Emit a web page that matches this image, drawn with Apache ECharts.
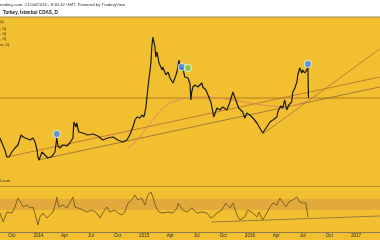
<!DOCTYPE html>
<html><head><meta charset="utf-8">
<script src="https://cdn.jsdelivr.net/npm/echarts@6/dist/echarts.min.js"></script>
<style>html,body{margin:0;padding:0;background:#F1BF2F}#c{width:380px;height:240px}</style>
</head><body><div id="c"></div><script>
const priceDates = ['2013-08-21','2013-09-01','2013-09-07','2013-09-14','2013-09-21','2013-10-01','2013-10-12','2013-10-22','2013-11-02','2013-11-09','2013-11-16','2013-11-26','2013-12-03','2013-12-13','2013-12-20','2013-12-27','2013-12-30','2014-01-03','2014-01-13','2014-01-23','2014-02-02','2014-02-13','2014-02-20','2014-02-27','2014-03-05','2014-03-09','2014-03-16','2014-03-26','2014-04-09','2014-04-19','2014-04-30','2014-05-03','2014-05-10','2014-05-13','2014-05-20','2014-06-03','2014-06-20','2014-07-08','2014-07-25','2014-08-11','2014-08-28','2014-09-15','2014-10-02','2014-10-19','2014-11-02','2014-11-12',
'2014-11-23','2014-11-30','2014-12-07','2014-12-17','2014-12-24','2014-12-31','2015-01-07','2015-01-14','2015-01-24','2015-01-27','2015-01-31','2015-02-07','2015-02-10','2015-02-14','2015-02-21','2015-03-04','2015-03-06','2015-03-17','2015-03-24','2015-03-31','2015-04-10','2015-04-17','2015-04-24','2015-05-01','2015-05-07','2015-05-14','2015-05-21','2015-06-01','2015-06-08','2015-06-11','2015-06-14','2015-06-18','2015-06-25','2015-07-05','2015-07-19','2015-07-22','2015-08-02','2015-08-09','2015-08-19','2015-08-26','2015-08-29','2015-09-09','2015-09-19','2015-09-29','2015-10-13','2015-10-24','2015-11-03','2015-11-13','2015-11-23','2015-12-07','2015-12-14','2015-12-21',
'2016-01-01','2016-01-11','2016-01-25','2016-02-04','2016-02-14','2016-02-28','2016-03-10','2016-03-20','2016-04-03','2016-04-06','2016-04-16','2016-04-23','2016-04-30','2016-05-07','2016-05-14','2016-05-24','2016-05-28','2016-06-04','2016-06-11','2016-06-14','2016-06-21','2016-06-28','2016-07-01','2016-07-08','2016-07-15','2016-07-19','2016-07-21'];
const priceValues = [0.96,0.80,0.72,0.58,0.58,0.68,0.76,0.82,1.02,0.98,0.96,0.94,0.92,0.96,0.88,0.72,0.58,0.52,0.68,0.62,0.56,0.58,0.62,0.68,0.96,0.80,0.76,0.82,0.80,0.86,0.96,1.28,1.18,1.26,1.08,1.06,1.02,1.04,1.00,0.92,0.96,0.98,0.92,0.88,0.92,1.02,
1.18,1.32,1.38,1.36,1.42,1.38,1.58,1.98,2.46,2.78,2.98,2.78,2.58,2.68,2.46,2.32,2.38,2.22,2.28,2.16,2.06,2.16,2.28,2.52,2.32,2.36,2.18,2.16,2.04,1.72,1.88,1.98,2.02,1.98,2.06,1.98,1.92,1.82,1.68,1.48,1.38,1.56,1.52,1.58,1.52,1.68,1.88,1.72,1.56,1.48,1.36,1.46,
1.42,1.36,1.26,1.16,1.06,1.18,1.28,1.32,1.38,1.48,1.60,1.56,1.72,1.52,1.62,1.68,1.88,1.96,2.08,2.22,2.36,2.26,2.32,2.26,2.32,2.38,1.76];

const maDates = ['2014-11-06','2014-11-30','2014-12-24','2015-01-14','2015-02-07','2015-03-06','2015-04-06','2015-05-11','2015-06-25','2015-08-16','2015-10-06','2015-11-27','2016-01-18','2016-03-10','2016-04-20','2016-06-04','2016-07-21'];
const maValues = [0.76,0.88,1.04,1.20,1.38,1.56,1.68,1.74,1.78,1.78,1.74,1.70,1.64,1.60,1.58,1.62,1.70];

const oscDates = ['2013-08-21','2013-09-01','2013-09-14','2013-10-01','2013-10-12','2013-10-22','2013-11-02','2013-11-09','2013-11-22','2013-12-03','2013-12-13','2013-12-23','2013-12-30','2014-01-06','2014-01-16','2014-01-30','2014-02-09','2014-02-20','2014-03-02','2014-03-05','2014-03-12','2014-03-26','2014-04-09','2014-04-19','2014-04-30','2014-05-07','2014-05-17','2014-06-03','2014-06-17','2014-07-04','2014-07-21','2014-08-01','2014-08-11','2014-08-25','2014-09-04','2014-09-22','2014-10-02','2014-10-16','2014-10-26','2014-11-06','2014-11-19','2014-11-30','2014-12-10','2014-12-24','2015-01-03','2015-01-14','2015-01-24','2015-01-31','2015-02-10','2015-02-21','2015-03-06','2015-03-24','2015-04-10','2015-04-24','2015-04-28','2015-05-14','2015-05-29','2015-06-14','2015-07-02','2015-07-19','2015-08-05','2015-08-19','2015-08-26','2015-09-09','2015-09-26','2015-10-10','2015-10-24','2015-11-03','2015-11-17','2015-11-27','2015-12-14','2015-12-25','2016-01-11','2016-01-25','2016-02-01','2016-02-14','2016-02-28','2016-03-10','2016-03-20','2016-04-03','2016-04-13','2016-04-23','2016-05-04','2016-05-14','2016-05-28','2016-06-11','2016-06-21','2016-07-01','2016-07-12','2016-07-15','2016-07-19','2016-07-21'];
const oscValues = [38,20,40,38,50,68,58,50,54,48,50,30,14,30,38,28,34,40,60,70,50,54,48,58,70,50,48,44,40,44,38,28,38,50,40,44,38,34,40,58,64,74,64,68,54,74,80,70,50,40,38,40,38,48,58,44,40,48,38,40,38,28,30,38,44,58,48,58,34,24,30,44,38,30,40,24,38,50,58,54,68,60,50,60,64,70,60,58,58,54,30,30];

const trend1 = [['2013-09-14',0.58],['2017-03-24',2.18]];
const trend2 = [['2013-12-30',0.52],['2017-03-24',1.98]];
const trend3 = [['2016-02-14',1.04],['2017-03-24',2.74]];
const oscTrend = [['2015-08-22',20],['2017-03-24',32]];
const levelPrice = 1.76;
const oscBand = [44,66];

const blueEvents = [['2014-03-05',1.04],['2015-05-11',2.38],['2016-07-19',2.44]];
const greenEvents = [['2015-06-01',2.36]];

const tickDates = ['2013-10-01','2014-01-01','2014-04-01','2014-07-01','2014-10-01','2015-01-01','2015-04-01','2015-07-01','2015-10-01','2016-01-01','2016-04-01','2016-07-01','2016-10-01','2017-01-01'];
const tickLabels = ['Oct','2014','Apr','Jul','Oct','2015','Apr','Jul','Oct','2016','Apr','Jul','Oct','2017'];

const headerLine1 = 'eeding.com, 21/Jul/2016 - 8:35:42 GMT, Powered by TradingView';
const headerLine2 = 'Turkey, Istanbul CDAS, D';
const legendTexts = ['0)', ', 0)', ', 0)', ', 0)', 'w, 0)'];

const base = Date.UTC(2014,0,1);
function dx(s){const p=s.split('-').map(Number);return (Date.UTC(p[0],p[1]-1,p[2])-base)/86400000;}
const pts = (ds, vs) => ds.map((d,i)=>[dx(d),vs[i]]);
const seg = a => a.map(p=>[dx(p[0]),p[1]]);
const tickValues = tickDates.map(dx);
const XMIN = -132.9, XMAX = 1178.9;
const FONT = 'Liberation Sans';

const chart = echarts.init(document.getElementById('c'), null, {renderer:'canvas'});
const lineS = (data, color, w, xi, yi, z) => ({type:'line', data, xAxisIndex:xi, yAxisIndex:yi, symbol:'none', silent:true, animation:false, z:z||2,
  lineStyle:{color, width:w}});

chart.setOption({
  animation:false,
  backgroundColor:'#F1BF2F',
  grid:[{left:0,right:0,top:17,height:170},{left:0,right:0,top:187,height:45}],
  xAxis:[
    {type:'value',gridIndex:0,min:XMIN,max:XMAX,axisLine:{show:true,lineStyle:{color:'#B8902E',width:1}},axisTick:{show:false},axisLabel:{show:false},splitLine:{show:false}},
    {type:'value',gridIndex:1,min:XMIN,max:XMAX,axisLine:{show:true,lineStyle:{color:'#8C7A50',width:1}},axisTick:{show:false},splitLine:{show:false},
     axisLabel:{show:true,customValues:tickValues,margin:1.5,fontSize:4.6,fontFamily:FONT,color:'#2a2a2a',
       formatter:v=>{const i=tickValues.indexOf(v);return i>=0?tickLabels[i]:'';}}}
  ],
  yAxis:[
    {type:'value',gridIndex:0,min:-0.02,max:3.38,show:false,splitLine:{show:false}},
    {type:'value',gridIndex:1,min:0,max:90,show:false,splitLine:{show:false}}
  ],
  series:[
    lineS([[XMIN,levelPrice],[XMAX,levelPrice]],'#B07A1E',1,0,0,1),
    lineS(seg(trend1),'#B8683A',0.8,0,0,2),
    lineS(seg(trend2),'#8E6A3A',0.8,0,0,2),
    lineS(seg(trend3),'#A8703A',0.8,0,0,2),
    lineS(pts(maDates,maValues),'#E48A5C',1,0,0,2),
    lineS(pts(priceDates,priceValues),'#1A1A10',1.2,0,0,3),
    {type:'scatter',xAxisIndex:0,yAxisIndex:0,data:seg(blueEvents),symbol:'circle',symbolSize:7,silent:true,z:5,
      itemStyle:{color:'#3E8EE6',borderColor:'#D8ECFF',borderWidth:1.2}},
    {type:'scatter',xAxisIndex:0,yAxisIndex:0,data:seg(greenEvents),symbol:'circle',symbolSize:7,silent:true,z:5,
      itemStyle:{color:'#79C85A',borderColor:'#E0F5D0',borderWidth:1.2}},
    Object.assign(lineS(pts(oscDates,oscValues),'#6E5A24',0.9,1,1,3),{
      markArea:{silent:true,itemStyle:{color:'#E2AA3C'},data:[[{yAxis:oscBand[0]},{yAxis:oscBand[1]}]]}}),
    lineS(seg(oscTrend),'#7E6A4A',0.8,1,1,2)
  ],
  graphic:[
    {type:'rect',left:0,top:0,shape:{width:380,height:17},style:{fill:'#ffffff'},z:10},
    {type:'line',shape:{x1:0,y1:17,x2:380,y2:17},style:{stroke:'#A08A50',lineWidth:1},z:10},
    {type:'text',left:0,top:3,style:{text:headerLine1,fontSize:4.3,fontFamily:FONT,fill:'#333'},z:11},
    {type:'text',left:3,top:10.5,style:{text:headerLine2,fontSize:4.6,fontWeight:'bold',fontFamily:FONT,fill:'#222'},z:11},
    ...legendTexts.map((t,i)=>({type:'text',left:0,top:[20,27,32,37,43][i],style:{text:t,fontSize:4.3,fontFamily:FONT,fill:'#3a3020'},z:11})),
    {type:'text',left:0,top:179,style:{text:'l.com',fontSize:4.3,fontFamily:FONT,fill:'#3a3020'},z:11}
  ]
});
</script></body></html>
